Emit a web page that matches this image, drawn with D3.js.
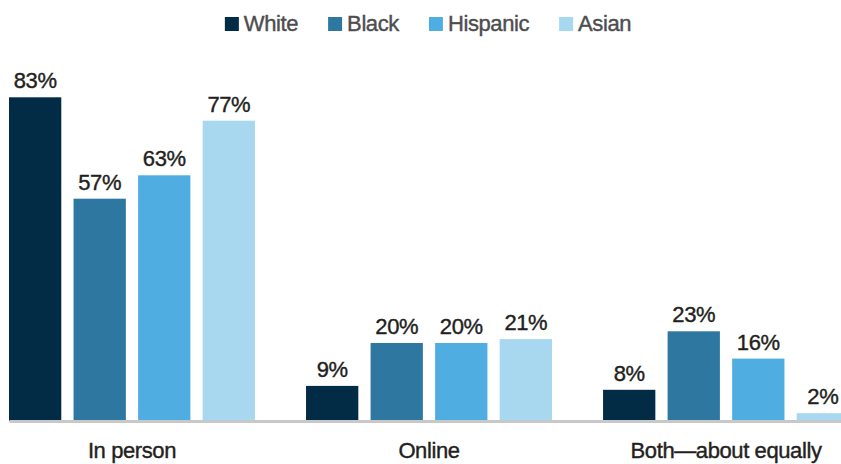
<!DOCTYPE html>
<html>
<head>
<meta charset="utf-8">
<script src="https://cdn.jsdelivr.net/npm/d3@7"></script>
<style>
  body { margin: 0; background: #fff; }
  svg { display: block; font-family: "Liberation Sans", Arial, sans-serif; }
  .lbl { letter-spacing: -0.4px; stroke-width: 0.4px; paint-order: stroke; }
</style>
</head>
<body>
<div chart></div>
<script>
const categories = ["In person", "Online", "Both\u2014about equally"];
const races = ["White", "Black", "Hispanic", "Asian"];
const colors = ["#022b46", "#2e77a0", "#4fade2", "#a8d7f0"];
// percent by race, one array per race, in category order
const whiteVals = [83, 9, 8];
const blackVals = [57, 20, 23];
const hispanicVals = [63, 20, 16];
const asianVals = [77, 21, 2];

const dimensions = { width: 841, height: 464 };
const margin = { left: 9, baseline: 421 };

const series = [whiteVals, blackVals, hispanicVals, asianVals];
const data = categories.map((c, i) => ({
  category: c,
  values: races.map((r, j) => ({ race: r, value: series[j][i] })),
}));

const svg = d3
  .select("[chart]")
  .append("svg")
  .attr("width", dimensions.width)
  .attr("height", dimensions.height);

const x0 = d3
  .scaleBand()
  .domain(categories)
  .range([margin.left, 849])
  .paddingInner(0.172)
  .paddingOuter(0);

const x1 = d3
  .scaleBand()
  .domain(races)
  .range([0, x0.bandwidth()])
  .paddingInner(0.19)
  .paddingOuter(0);

const y = d3.scaleLinear().domain([0, 100]).range([margin.baseline, 31]);

const color = d3.scaleOrdinal().domain(races).range(colors);

const groups = svg
  .selectAll("g.group")
  .data(data)
  .join("g")
  .attr("class", "group")
  .attr("transform", (d) => `translate(${x0(d.category)},0)`);

groups
  .selectAll("rect")
  .data((d) => d.values)
  .join("rect")
  .attr("x", (d) => x1(d.race))
  .attr("y", (d) => y(d.value))
  .attr("width", x1.bandwidth())
  .attr("height", (d) => y(0) - y(d.value))
  .attr("fill", (d) => color(d.race));

groups
  .selectAll("text.value")
  .data((d) => d.values)
  .join("text")
  .attr("class", "value lbl")
  .attr("x", (d) => x1(d.race) + x1.bandwidth() / 2)
  .attr("y", (d) => y(d.value) - 9)
  .attr("text-anchor", "middle")
  .attr("font-size", 22)
  .attr("fill", "#231f20")
  .attr("stroke", "#231f20")
  .text((d) => d.value + "%");

// baseline + category labels
const axis = svg
  .append("g")
  .attr("transform", `translate(0,${margin.baseline})`)
  .call(d3.axisBottom(x0).tickSize(0).tickPadding(16));

axis.select(".domain").attr("stroke", "#c8c8c8").attr("stroke-width", 3);
axis
  .selectAll(".tick text")
  .attr("class", "lbl")
  .attr("font-size", 22)
  .attr("font-family", "Liberation Sans, Arial, sans-serif")
  .attr("fill", "#231f20")
  .attr("stroke", "#231f20")
  .attr("dy", "0")
  .attr("y", 37);

// legend
const legend = svg.append("g");
const items = legend
  .selectAll("g")
  .data(races)
  .join("g");

items
  .append("rect")
  .attr("y", 17)
  .attr("width", 14)
  .attr("height", 14)
  .attr("fill", (d) => color(d));

items
  .append("text")
  .attr("class", "lbl")
  .attr("x", 19)
  .attr("y", 31)
  .attr("font-size", 22)
  .attr("fill", "#4d4d4f")
  .attr("stroke", "#4d4d4f")
  .text((d) => d);

const widths = [];
items.each(function () {
  widths.push(19 + this.querySelector("text").getComputedTextLength());
});
const total = d3.sum(widths) + 30 * (widths.length - 1);
let lx = 428 - total / 2;
items.attr("transform", (d, i) => {
  const t = `translate(${lx},0)`;
  lx += widths[i] + 30;
  return t;
});
</script>
</body>
</html>
